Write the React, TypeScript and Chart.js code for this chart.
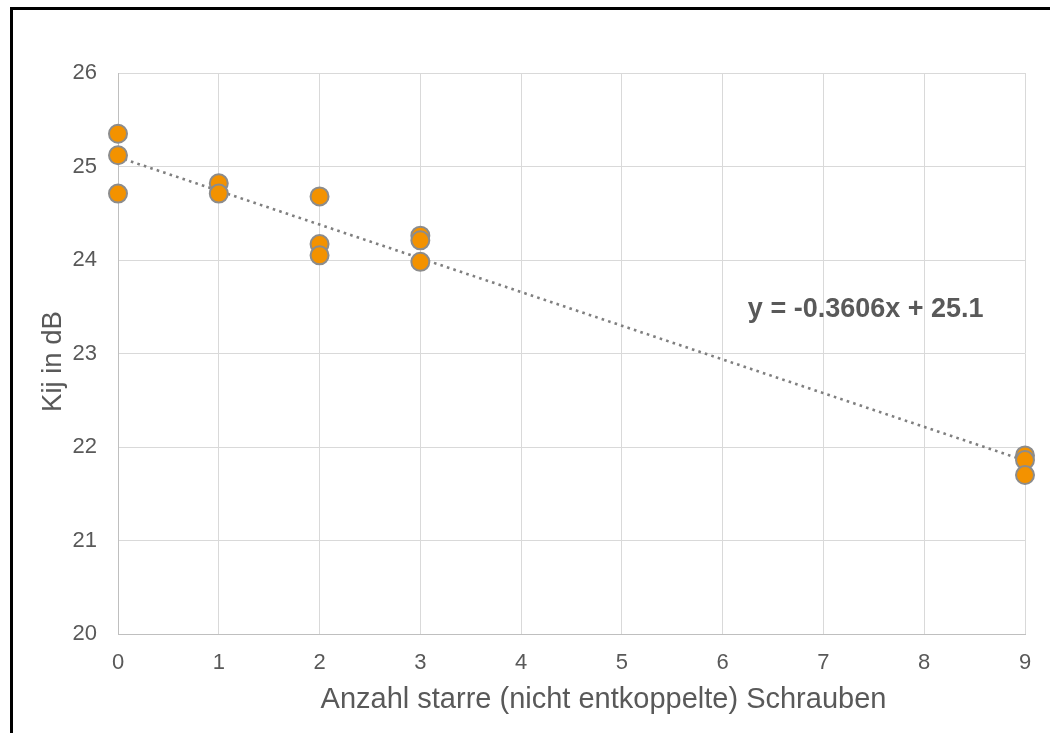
import React, { useEffect, useRef } from "react";
import { Chart, registerables } from "chart.js";

Chart.register(...registerables);

const xValues = [0, 0, 0, 1, 1, 2, 2, 2, 3, 3, 3, 9, 9, 9];
const yValues = [25.35, 25.12, 24.71, 24.82, 24.71, 24.68, 24.17, 24.05, 24.26, 24.21, 23.98, 21.91, 21.86, 21.7];
const trendSlope = -0.3606;
const trendIntercept = 25.1;
const trendRange = [0, 9];
const equationText = "y = -0.3606x + 25.1";
const equationAnchor = { x: 6.25, y: 23.47 };
const xTitle = "Anzahl starre (nicht entkoppelte) Schrauben";
const yTitle = "Kij in dB";

const FONT = "'Liberation Sans', Arial, sans-serif";
const TEXT = "#595959";

const textPlugin = {
  id: "customTexts",
  afterDraw(chart: any) {
    const { ctx, scales, chartArea } = chart;
    ctx.save();
    ctx.fillStyle = TEXT;
    // equation
    ctx.font = `bold 27px ${FONT}`;
    ctx.textAlign = "left";
    ctx.textBaseline = "middle";
    ctx.fillText(equationText, scales.x.getPixelForValue(equationAnchor.x), scales.y.getPixelForValue(equationAnchor.y));
    // x title
    ctx.font = `29px ${FONT}`;
    ctx.textAlign = "center";
    ctx.textBaseline = "middle";
    const cx = (chartArea.left + chartArea.right) / 2 + 32;
    ctx.fillText(xTitle, cx, chartArea.bottom + 66);
    // y title
    ctx.font = `27.5px ${FONT}`;
    ctx.translate(53, (chartArea.top + chartArea.bottom) / 2 + 8);
    ctx.rotate(-Math.PI / 2);
    ctx.fillText(yTitle, 0, 0);
    ctx.restore();
  },
};

export default function App() {
  const ref = useRef<HTMLCanvasElement | null>(null);
  useEffect(() => {
    if (!ref.current) return;
    const points = xValues.map((x, i) => ({ x, y: yValues[i] }));
    const trend = trendRange.map((x) => ({ x, y: trendSlope * x + trendIntercept }));
    const chart = new Chart(ref.current, {
      type: "scatter",
      data: {
        datasets: [
          {
            type: "line",
            data: trend,
            borderColor: "#7f7f7f",
            borderWidth: 2.6,
            borderDash: [2.6, 4.2],
            pointRadius: 0,
            fill: false,
            order: 2,
          } as any,
          {
            data: points,
            backgroundColor: "#f39200",
            borderColor: "#8c8c8c",
            borderWidth: 2,
            pointRadius: 9,
            pointHoverRadius: 9,
            clip: false,
            order: 1,
          } as any,
        ],
      },
      options: {
        animation: false,
        responsive: false,
        events: [],
        layout: { padding: { left: 0, top: 73, right: 25, bottom: 0 } },
        plugins: { legend: { display: false }, tooltip: { enabled: false } },
        scales: {
          x: {
            type: "linear",
            min: 0,
            max: 9,
            afterFit: (s: any) => {
              s.height = 99;
            },
            ticks: { stepSize: 1, color: TEXT, font: { family: FONT, size: 22 }, padding: 16 },
            grid: { color: "#d9d9d9", drawTicks: false, lineWidth: 1 },
            border: { color: "#bfbfbf", width: 1 },
          },
          y: {
            type: "linear",
            min: 20,
            max: 26,
            afterFit: (s: any) => {
              s.width = 118;
            },
            ticks: { stepSize: 1, color: TEXT, font: { family: FONT, size: 22 }, padding: 21 },
            grid: { color: "#d9d9d9", drawTicks: false, lineWidth: 1 },
            border: { color: "#bfbfbf", width: 1 },
          },
        },
      },
      plugins: [textPlugin],
    });
    return () => chart.destroy();
  }, []);

  return (
    <div style={{ position: "fixed", left: 0, top: 0, width: 1050, height: 733, background: "#fff", overflow: "hidden" }}>
      <canvas ref={ref} width={1050} height={733} style={{ position: "absolute", left: 0, top: 0, width: 1050, height: 733 }} />
      <div
        style={{
          position: "absolute",
          left: 10,
          top: 7,
          width: 1100,
          height: 800,
          borderLeft: "3px solid #000",
          borderTop: "3px solid #000",
          pointerEvents: "none",
        }}
      />
    </div>
  );
}
